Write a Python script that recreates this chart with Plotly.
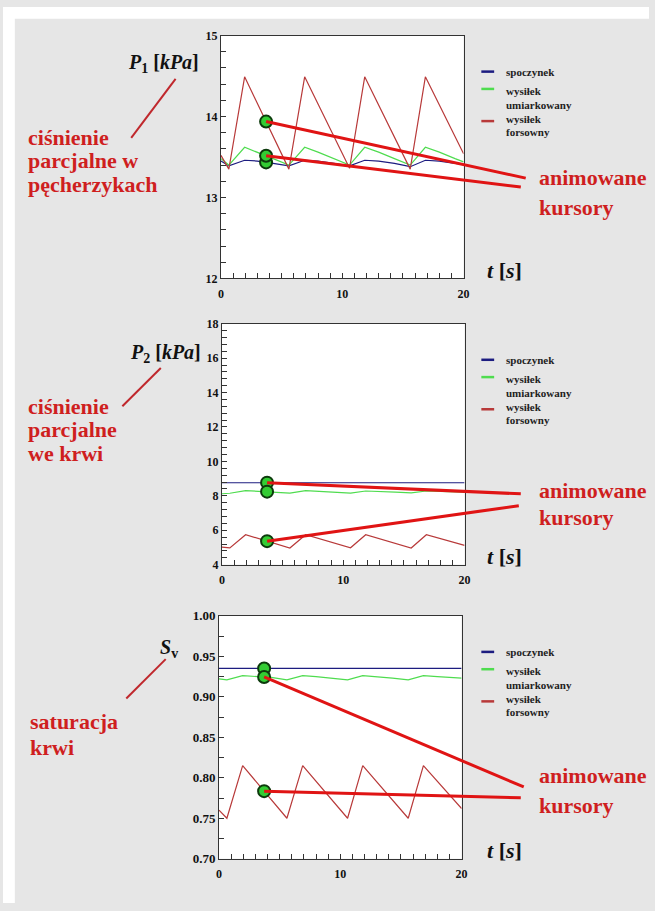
import numpy as np
import plotly.graph_objects as go

# ---------------- data ----------------
series_names = ["spoczynek", "wysiłek umiarkowany", "wysiłek forsowny"]
legend_lines = [["spoczynek"], ["wysiłek", "umiarkowany"], ["wysiłek", "forsowny"]]

# knots of the breathing cycle (sawtooth) and a finer time grid for smoother curves
t_saw = [0, 0.65, 1.95, 5.6, 6.9, 10.6, 11.85, 15.6, 16.85, 20]
t_fine = [0, 0.65, 1.95, 3.0, 4.3, 5.6, 6.9, 8.0, 9.3, 10.6, 11.85, 13.0,
          14.3, 15.6, 16.85, 18.0, 19.3, 20]

# P1 [kPa] - alveolar partial pressure
p1_spoczynek = [13.45, 13.39, 13.46, 13.45, 13.42, 13.39, 13.46, 13.45, 13.42,
                13.39, 13.46, 13.45, 13.42, 13.38, 13.46, 13.45, 13.42, 13.41]
p1_umiarkowany = [13.48, 13.40, 13.62, 13.56, 13.48, 13.40, 13.62, 13.56, 13.48,
                  13.40, 13.62, 13.56, 13.48, 13.40, 13.62, 13.56, 13.48, 13.44]
p1_forsowny = [13.52, 13.35, 14.49, 13.35, 14.49, 13.36, 14.49, 13.35, 14.49, 13.54]

# P2 [kPa] - partial pressure in blood
p2_spoczynek = [8.76, 8.76, 8.77, 8.77, 8.76, 8.76, 8.77, 8.77, 8.76,
                8.76, 8.77, 8.77, 8.76, 8.76, 8.77, 8.77, 8.76, 8.76]
p2_umiarkowany = [8.12, 8.15, 8.30, 8.27, 8.22, 8.16, 8.30, 8.27, 8.22,
                  8.16, 8.28, 8.26, 8.22, 8.17, 8.28, 8.26, 8.22, 8.21]
p2_forsowny = [5.02, 4.97, 5.74, 4.97, 5.74, 4.98, 5.74, 4.97, 5.74, 5.12]

# Sv - blood saturation
sv_spoczynek = [0.935, 0.935, 0.935, 0.935, 0.935, 0.935, 0.935, 0.935, 0.935,
                0.935, 0.935, 0.935, 0.935, 0.935, 0.935, 0.935, 0.935, 0.935]
sv_umiarkowany = [0.922, 0.921, 0.926, 0.925, 0.924, 0.921, 0.926, 0.925, 0.923,
                  0.921, 0.926, 0.925, 0.923, 0.921, 0.926, 0.925, 0.924, 0.923]
sv_forsowny = [0.760, 0.750, 0.815, 0.750, 0.815, 0.750, 0.815, 0.750, 0.815, 0.762]

t_cursor = 3.72

x_ticks = [0, 10, 20]

# ---------------- styling / layout ----------------
W, H = 655, 911
BG = "#e6e6e6"
SERIF = "Liberation Serif, Times New Roman, DejaVu Serif, serif"
TXT_RED = "#cf1f1f"
CUR_RED = "#e01414"
colors = ["#1c1c80", "#4fdc4f", "#b83a3a"]
X_RANGE = [0, 20]

panels = [
    dict(box=(221, 29, 467, 276), yr=[12, 15], dtick=1, minor=0.2, fmt="",
         data=[p1_spoczynek, p1_umiarkowany, p1_forsowny],
         cursor_tails={2: (530, 174), 1: (525, 183)}),
    dict(box=(222, 322, 468, 567), yr=[4, 18], dtick=2, minor=0.4, fmt="",
         data=[p2_spoczynek, p2_umiarkowany, p2_forsowny],
         cursor_tails={0: (525, 495), 2: (523, 507)}),
    dict(box=(219, 619, 465, 866), yr=[0.70, 1.00], dtick=0.05, minor=0.025, fmt=".2f",
         data=[sv_spoczynek, sv_umiarkowany, sv_forsowny],
         cursor_tails={1: (528, 793), 2: (525, 804)}),
]


def px(x):
    return x / W


def py(y):
    return 1 - y / H


fig = go.Figure()
layout = dict(
    width=W, height=H, margin=dict(l=0, r=0, t=0, b=0),
    paper_bgcolor=BG, plot_bgcolor="white", showlegend=False,
    font=dict(family=SERIF, color="#111"),
)
shapes = []
annotations = []

# white outer strip on the top and left edges
shapes.append(dict(type="rect", xref="paper", yref="paper", x0=0, x1=1,
                   y0=py(12), y1=1, fillcolor="white", line_width=0, layer="below"))
shapes.append(dict(type="rect", xref="paper", yref="paper", x0=0, x1=px(12),
                   y0=0, y1=1, fillcolor="white", line_width=0, layer="below"))

for i, p in enumerate(panels):
    n = "" if i == 0 else str(i + 1)
    xa, ya = "x" + n, "y" + n
    l, t, r, b = p["box"]
    layout["xaxis" + n] = dict(
        domain=[px(l), px(r)], anchor=ya, range=X_RANGE, tickvals=x_ticks,
        ticks="inside", ticklen=5, tickcolor="#333",
        minor=dict(dtick=1, tick0=0, ticks="inside", ticklen=5, tickcolor="#333"),
        showgrid=False, zeroline=False, showline=True, linecolor="#333",
        linewidth=1, mirror=True,
        tickfont=dict(family=SERIF, size=12, color="#111", weight="bold"),
        ticklabelstandoff=4,
    )
    layout["yaxis" + n] = dict(
        domain=[py(b), py(t)], anchor=xa, range=p["yr"], dtick=p["dtick"],
        tick0=p["yr"][0], tickformat=p["fmt"],
        ticks="inside", ticklen=5, tickcolor="#333",
        minor=dict(dtick=p["minor"], tick0=p["yr"][0], ticks="inside",
                   ticklen=5, tickcolor="#333"),
        showgrid=False, zeroline=False, showline=True, linecolor="#333",
        linewidth=1, mirror=True,
        tickfont=dict(family=SERIF, size=13 if i == 2 else 12, color="#111",
                      weight="bold"),
    )

    # series curves
    for k, (name, vals) in enumerate(zip(series_names, p["data"])):
        tt = t_saw if k == 2 else t_fine
        fig.add_trace(go.Scatter(x=tt, y=vals, mode="lines", name=name,
                                 line=dict(color=colors[k], width=1.2),
                                 xaxis=xa, yaxis=ya, hoverinfo="skip"))

    # cursor points at t_cursor
    cur_vals = []
    for k, vals in enumerate(p["data"]):
        tt = t_saw if k == 2 else t_fine
        cur_vals.append(float(np.interp(t_cursor, tt, vals)))
    fig.add_trace(go.Scatter(
        x=[t_cursor] * 3, y=cur_vals, mode="markers", cliponaxis=False,
        marker=dict(size=12, color="#33cc33", line=dict(color="#0c3a0c", width=2)),
        xaxis=xa, yaxis=ya, hoverinfo="skip"))

    # red leader lines from the cursor points to the "animowane kursory" label
    y0, y1 = p["yr"]
    for k, (tx, ty) in p["cursor_tails"].items():
        hx = l + (t_cursor - X_RANGE[0]) / (X_RANGE[1] - X_RANGE[0]) * (r - l)
        hy = b - (cur_vals[k] - y0) / (y1 - y0) * (b - t)
        shapes.append(dict(type="line", xref="paper", yref="paper",
                           x0=px(hx), y0=py(hy), x1=px(tx), y1=py(ty),
                           line=dict(color=CUR_RED, width=3), layer="above"))

    # legend drawn to the right of each panel
    sample_y = [t + 36.7, t + 54.3, t + 87]
    for k in range(3):
        shapes.append(dict(type="line", xref="paper", yref="paper",
                           x0=px(485), x1=px(498), y0=py(sample_y[k]), y1=py(sample_y[k]),
                           line=dict(color=colors[k], width=2.5)))
    legend_y = [[t + 36.7], [t + 56, t + 70.3], [t + 85, t + 98.3]]
    for k in range(3):
        for line_txt, yy in zip(legend_lines[k], legend_y[k]):
            annotations.append(dict(
                x=px(508), y=py(yy), xref="paper", yref="paper", xanchor="left",
                yanchor="middle", showarrow=False, text="<b>" + line_txt + "</b>",
                font=dict(family=SERIF, size=11, color="#222")))

    # time-axis caption
    annotations.append(dict(
        x=px(508), y=py(b - 8), xref="paper", yref="paper", xanchor="center",
        yanchor="middle", showarrow=False, text="<b><i>t</i> [<i>s</i>]</b>",
        font=dict(family=SERIF, size=22, color="#111")))

# quantity symbols on the left
symbols = [
    ("<b><i>P</i></b><sub><b>1</b></sub><b> [<i>kPa</i>]</b>", 163, 57),
    ("<b><i>P</i></b><sub><b>2</b></sub><b> [<i>kPa</i>]</b>", 165, 352),
    ("<b><i>S</i></b><sub><b>v</b></sub>", 168, 652),
]
for txt, x, y in symbols:
    annotations.append(dict(x=px(x), y=py(y), xref="paper", yref="paper",
                            xanchor="center", yanchor="middle", showarrow=False,
                            text=txt, font=dict(family=SERIF, size=20, color="#111")))

# red descriptions
descriptions = [
    (23, [("ciśnienie", 133), ("parcjalne w", 156.5), ("pęcherzykach", 180)]),
    (23, [("ciśnienie", 406.5), ("parcjalne", 430), ("we krwi", 454)]),
    (25, [("saturacja", 726), ("krwi", 753)]),
]
for x, lines in descriptions:
    for txt, y in lines:
        annotations.append(dict(x=px(x), y=py(y), xref="paper", yref="paper",
                                xanchor="left", yanchor="middle", showarrow=False,
                                text="<b>" + txt + "</b>",
                                font=dict(family=SERIF, size=22, color=TXT_RED)))

# thin pointers from descriptions to symbols
pointers = [((175, 73), (130, 133)), ((160, 367), (121, 406)), ((165, 663), (125, 703))]
for (xa_, ya_), (xb_, yb_) in pointers:
    shapes.append(dict(type="line", xref="paper", yref="paper",
                       x0=px(xa_), y0=py(ya_), x1=px(xb_), y1=py(yb_),
                       line=dict(color="#c0282d", width=2)))

# "animowane kursory" labels
cursor_labels = [(173, 204), (492, 519), (781, 812)]
for ya_, yb_ in cursor_labels:
    for txt, y in (("animowane", ya_), ("kursory", yb_)):
        annotations.append(dict(x=px(541), y=py(y), xref="paper", yref="paper",
                                xanchor="left", yanchor="middle", showarrow=False,
                                text="<b>" + txt + "</b>",
                                font=dict(family=SERIF, size=22, color=TXT_RED)))

layout["shapes"] = shapes
layout["annotations"] = annotations
fig.update_layout(**layout)
fig.write_html("out.html")
